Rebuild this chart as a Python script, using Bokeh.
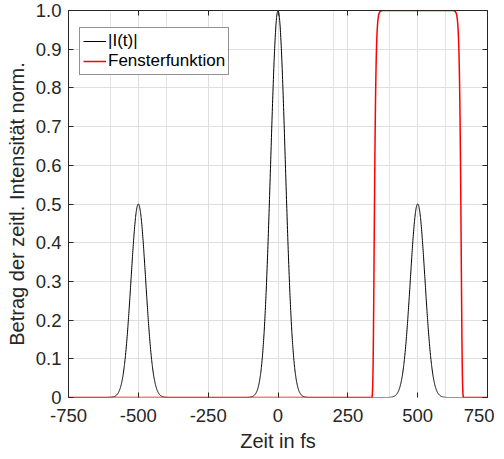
import numpy as np
from bokeh.plotting import figure
from bokeh.models import Range1d, LinearAxis, FixedTicker, Legend, LegendItem, Grid
from bokeh.embed import file_html
from bokeh.resources import INLINE

# --- data ---
pulse_centers_fs = [-500, 0, 500]      # pulse positions
pulse_peaks = [0.5, 1.0, 0.5]          # normalized peak values
pulse_fwhm_fs = 62                     # full width at half maximum
window_center_fs = 500                 # window centre
window_halfwidth_fs = 156              # window half width
window_order = 20                      # super-gaussian order
x_ticks = [-750, -500, -250, 0, 250, 500, 750]
x_tick_labels = ["-750", "-500", "-250", "0", "250", "500", "750"]
y_ticks = [0, 0.1, 0.2, 0.3, 0.4, 0.5, 0.6, 0.7, 0.8, 0.9, 1.0]
y_tick_labels = ["0", "0.1", "0.2", "0.3", "0.4", "0.5", "0.6", "0.7", "0.8", "0.9", "1.0"]

t = np.linspace(-750, 750, 3001)
intensity = np.zeros_like(t)
for c, a in zip(pulse_centers_fs, pulse_peaks):
    intensity += a * np.exp(-4 * np.log(2) * (t - c) ** 2 / pulse_fwhm_fs ** 2)
window = np.exp(-((t - window_center_fs) / window_halfwidth_fs) ** (2 * window_order))

FONT = "Liberation Sans"
AX = "#262626"

p = figure(width=494, height=457, output_backend="svg", toolbar_location=None,
           x_range=Range1d(-750, 750), y_range=Range1d(0, 1),
           x_axis_location=None, y_axis_location=None)
p.min_border_left = 68
p.min_border_right = 7
p.min_border_top = 10
p.min_border_bottom = 60
p.outline_line_color = None
p.background_fill_color = "white"
p.border_fill_color = "white"

def make_axis(ticks, labels, show=True, standoff=7, line=True):
    ax = LinearAxis(ticker=FixedTicker(ticks=ticks))
    ax.major_tick_in = 5
    ax.major_tick_out = 0
    ax.minor_tick_line_color = None
    ax.axis_line_color = AX if line else None
    ax.major_tick_line_color = AX
    ax.major_label_text_font = FONT
    ax.major_label_text_color = AX
    ax.major_label_text_font_size = "18.5px"
    if show:
        ax.major_label_standoff = standoff
        ax.major_label_overrides = {v: s for v, s in zip(ticks, labels)}
    else:
        ax.major_label_standoff = 0
        ax.major_label_overrides = {v: "" for v in ticks}
    ax.axis_label_text_font = FONT
    ax.axis_label_text_font_style = "normal"
    ax.axis_label_text_color = AX
    ax.axis_label_text_font_size = "20px"
    return ax

xb = make_axis(x_ticks, x_tick_labels, standoff=11, line=False)
xb.axis_label = "Zeit in fs"
xb.axis_label_standoff = 5
yl = make_axis(y_ticks, y_tick_labels, standoff=7)
yl.axis_label = "Betrag der zeitl. Intensität norm."
yl.axis_label_standoff = 5
xt = make_axis(x_ticks, x_tick_labels, show=False)
yr = make_axis(y_ticks, y_tick_labels, show=False)
p.add_layout(xb, "below")
p.add_layout(yl, "left")
p.add_layout(xt, "above")
p.add_layout(yr, "right")

p.add_layout(Grid(dimension=0, ticker=FixedTicker(ticks=x_ticks), grid_line_color="#dfdfdf"))
p.add_layout(Grid(dimension=1, ticker=FixedTicker(ticks=y_ticks), grid_line_color="#dfdfdf"))

r1 = p.line(t, intensity, line_color="black", line_width=1)
r2 = p.line(t, window, line_color="#ff0000", line_width=1.5)

legend = Legend(items=[LegendItem(label="|I(t)|", renderers=[r1]),
                       LegendItem(label="Fensterfunktion", renderers=[r2])],
                location=(11, 322))
legend.margin = 0
legend.padding = 3
legend.spacing = 0
legend.glyph_width = 23
legend.glyph_height = 20
legend.label_height = 20
legend.label_standoff = 2
legend.label_text_font = FONT
legend.label_text_font_size = "17px"
legend.label_text_color = "black"
legend.border_line_color = AX
legend.border_line_width = 1
legend.background_fill_color = "white"
legend.background_fill_alpha = 1
p.add_layout(legend, "center")

open("out.html", "w").write(file_html(p, INLINE))
